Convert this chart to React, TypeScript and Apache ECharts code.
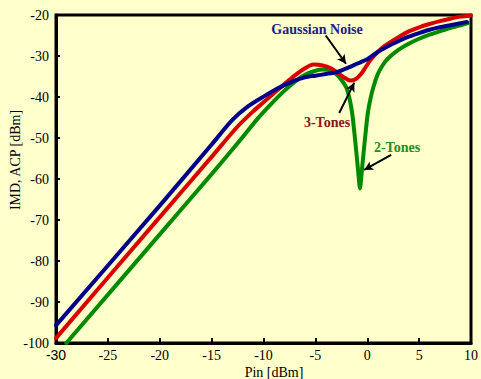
import React, { useEffect, useRef } from "react";
import * as echarts from "echarts";

// Pin [dBm] values and IMD/ACP [dBm] values for each curve
const gaussX = [-30, -20, -15, -13, -11.5, -10, -9, -8, -7, -6, -5, -4, -3, -2, -1, 0, 1, 2, 3, 4, 5, 6, 7, 8, 9, 9.6];
const gaussY = [-95.7, -66.5, -51.6, -45.6, -42.3, -39.9, -38.4, -37.1, -36.0, -35.2, -34.8, -34.4, -34.0, -33.0, -31.9, -30.8, -29.0, -27.6, -26.4, -25.3, -24.4, -23.6, -23.0, -22.5, -22.0, -21.7];

const tone3X = [-30, -20, -15, -12.5, -11, -10, -9, -8, -7, -6, -5.2, -4.3, -3.5, -2.8, -2.2, -1.6, -1.1, -0.6, -0.2, 0.3, 0.8, 1.5, 2, 3, 4, 5, 6, 7, 8, 9, 10];
const tone3Y = [-98.8, -69.3, -54.6, -47.2, -43.5, -41.3, -39.1, -36.9, -34.8, -33.0, -32.1, -32.3, -33.0, -34.2, -35.3, -36.0, -35.6, -34.4, -32.9, -31.0, -29.6, -27.9, -27.0, -25.4, -24.0, -23.0, -22.2, -21.5, -20.9, -20.4, -20.1];

const tone2X = [-29, -20, -15, -12.5, -10.5, -9, -8, -7, -6, -5, -4.3, -3.5, -3, -2.5, -2, -1.7, -1.45, -1.25, -1.05, -0.88, -0.7, -0.52, -0.35, -0.15, 0.05, 0.3, 0.6, 1, 1.5, 2, 3, 4, 5, 6, 7, 8, 9, 9.7];
const tone2Y = [-100, -73.5, -58.8, -51.3, -45.1, -41.0, -38.5, -36.3, -34.6, -33.6, -33.3, -33.6, -34.4, -35.8, -37.8, -40.5, -44.0, -48.5, -53.5, -58.0, -62.3, -58.0, -53.5, -48.5, -44.0, -40.5, -37.5, -34.5, -32.2, -30.6, -28.5, -27.0, -25.8, -24.8, -24.0, -23.2, -22.5, -22.0];

const xTicks = { min: -30, max: 10, interval: 5 };
const yTicks = { min: -100, max: -20, interval: 10 };

// annotation arrows in data coordinates: [from, to]
const gaussArrow = [[-4.0, -25.0], [-2.05, -31.9]];
const tone3Arrow = [[-2.7, -43.9], [-1.25, -36.5]];
const tone2Arrow = [[2.3, -54.1], [-0.3, -57.8]];

const seriesNames = ["2-Tones", "3-Tones", "Gaussian Noise"];

const zip = (xs: number[], ys: number[]) => xs.map((x, i) => [x, ys[i]]);

const SERIF = "'Liberation Serif', 'DejaVu Serif', serif";

export default function App() {
  const ref = useRef<HTMLDivElement>(null);
  useEffect(() => {
    document.body.style.margin = "0";
    document.body.style.background = "#FFFFCC";
    const chart = echarts.init(ref.current!, null, { renderer: "svg" });
    const arrow = (a: number[][]) => [{ coord: a[0] }, { coord: a[1] }];
    const mkLine = (arrs: number[][][]) => ({
      silent: true,
      symbol: ["none", "arrow"],
      symbolSize: [7, 9],
      label: { show: false },
      lineStyle: { color: "#000", width: 2, type: "solid" },
      emphasis: { disabled: true },
      data: arrs.map(arrow),
    });
    const lineSeries = (name: string, xs: number[], ys: number[], color: string, z: number, extra = {}) => ({
      name,
      type: "line",
      data: zip(xs, ys),
      showSymbol: false,
      smooth: 0.25,
      lineStyle: { color, width: 4, cap: "round", join: "round" },
      z,
      ...extra,
    });
    const label = (text: string, x: number, y: number, fill: string) => ({
      type: "text",
      x,
      y,
      z: 10,
      style: { text, fill, font: `bold 14px ${SERIF}`, align: "center", verticalAlign: "middle" },
    });
    chart.setOption({
      animation: false,
      backgroundColor: "#FFFFCC",
      grid: {
        left: 56,
        top: 15,
        right: 9,
        bottom: 36,
        show: true,
        borderColor: "#000",
        borderWidth: 3,
        backgroundColor: "transparent",
      },
      xAxis: {
        type: "value",
        min: xTicks.min,
        max: xTicks.max,
        interval: xTicks.interval,
        axisLine: { show: true, onZero: false, lineStyle: { color: "#000", width: 3 } },
        axisTick: { show: true, inside: true, length: 5, lineStyle: { color: "#000", width: 2 } },
        splitLine: { show: false },
        axisLabel: {
          color: "#000",
          fontFamily: SERIF,
          fontSize: 14,
          margin: 5,
          showMinLabel: true,
          showMaxLabel: true,
          formatter: (v: number) => (v === -30 ? "{s|-30}" : String(v)),
          rich: { s: { fontFamily: "'Liberation Sans', Arial, sans-serif", fontSize: 14, color: "#000" } },
        },
      },
      yAxis: {
        type: "value",
        min: yTicks.min,
        max: yTicks.max,
        interval: yTicks.interval,
        axisLine: { show: true, onZero: false, lineStyle: { color: "#000", width: 3 } },
        axisTick: { show: true, inside: true, length: 4, lineStyle: { color: "#000", width: 2 } },
        splitLine: { show: false },
        axisLabel: { color: "#000", fontFamily: SERIF, fontSize: 14, margin: 7 },
      },
      series: [
        lineSeries(seriesNames[0], tone2X, tone2Y, "#008A00", 2),
        lineSeries(seriesNames[1], tone3X, tone3Y, "#D80000", 3),
        lineSeries(seriesNames[2], gaussX, gaussY, "#00008C", 4, {
          markLine: mkLine([gaussArrow, tone3Arrow, tone2Arrow]),
        }),
      ],
      graphic: [
        label(seriesNames[2], 317, 29, "#1C1C84"),
        label(seriesNames[1], 327, 122, "#8E1414"),
        label(seriesNames[0], 397, 147, "#1E8C1E"),
        {
          type: "text",
          x: 274,
          y: 372,
          style: { text: "Pin [dBm]", fill: "#000", font: `14px ${SERIF}`, align: "center", verticalAlign: "middle" },
        },
        {
          type: "text",
          x: 15,
          y: 160,
          rotation: Math.PI / 2,
          style: { text: "IMD, ACP [dBm]", fill: "#000", font: `14px ${SERIF}`, align: "center", verticalAlign: "middle" },
        },
      ],
    });
    return () => chart.dispose();
  }, []);
  return <div ref={ref} style={{ width: 481, height: 379, background: "#FFFFCC" }} />;
}
